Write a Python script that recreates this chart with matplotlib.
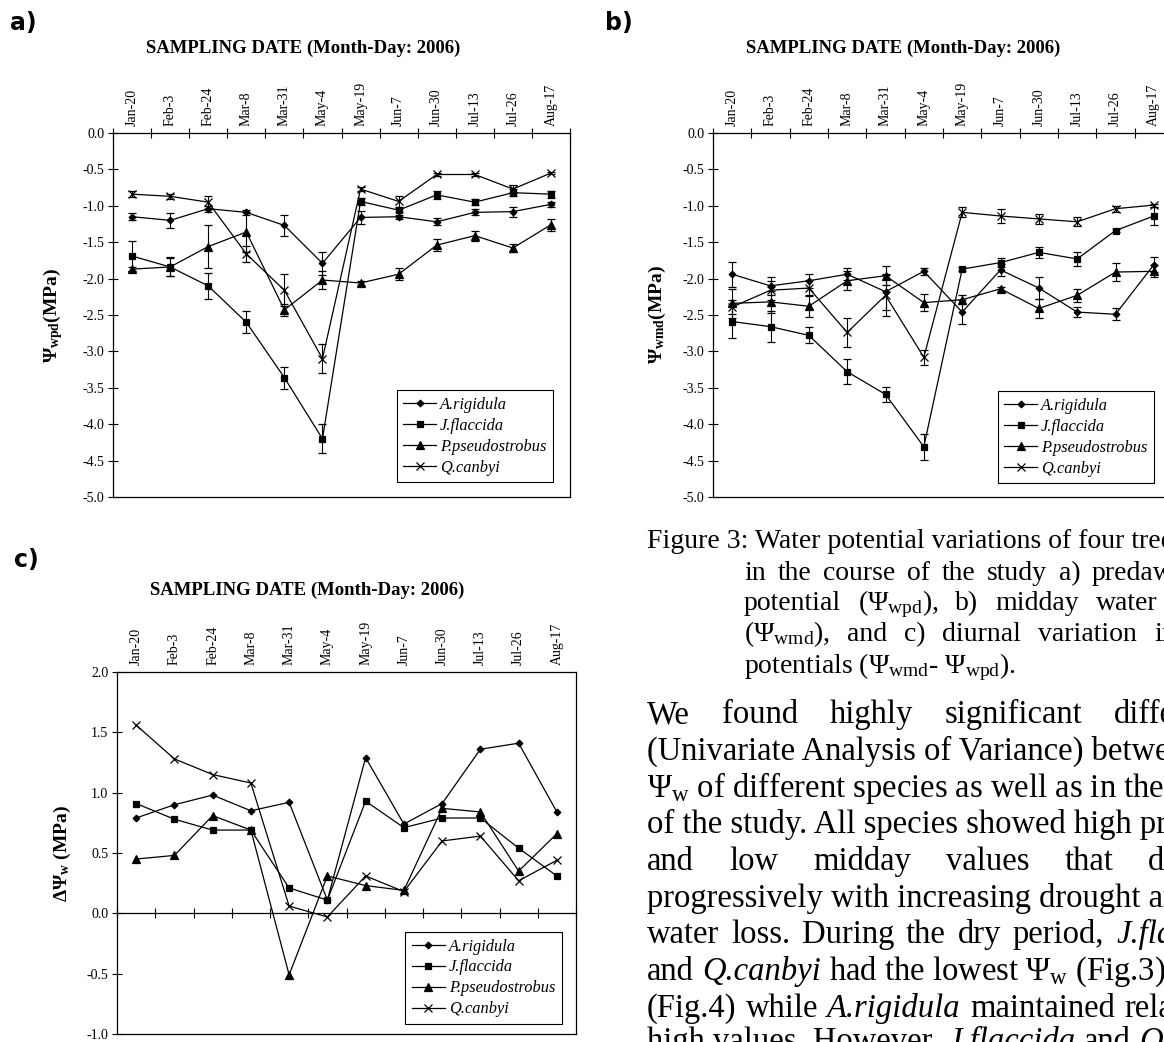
import numpy as np
import matplotlib
matplotlib.use("Agg")
import matplotlib.pyplot as plt
from matplotlib.lines import Line2D
from matplotlib.ticker import FuncFormatter

plt.rcParams["font.family"] = "Liberation Serif"
plt.rcParams["mathtext.fontset"] = "custom"
plt.rcParams["mathtext.rm"] = "Liberation Serif"
plt.rcParams["mathtext.it"] = "Liberation Serif:italic"
plt.rcParams["mathtext.bf"] = "Liberation Serif:bold"

W, H = 1164, 1042

dates = ["Jan-20", "Feb-3", "Feb-24", "Mar-8", "Mar-31", "May-4",
         "May-19", "Jun-7", "Jun-30", "Jul-13", "Jul-26", "Aug-17"]
species = ["A.rigidula", "J.flaccida", "P.pseudostrobus", "Q.canbyi"]
markers = ["D", "s", "^", "x"]
msizes = [3.4, 4.6, 5.2, 5.2]

# a) predawn water potential (MPa), with error bars
wpd_rigidula = [-1.15, -1.20, -1.04, -1.09, -1.27, -1.79, -1.16, -1.15, -1.22, -1.09, -1.08, -0.98]
wpd_rigidula_err = [0.05, 0.10, 0.04, 0.03, 0.15, 0.16, 0.09, 0.03, 0.05, 0.04, 0.07, 0.03]
wpd_flaccida = [-1.69, -1.84, -2.10, -2.60, -3.36, -4.20, -0.94, -1.06, -0.85, -0.95, -0.82, -0.84]
wpd_flaccida_err = [0.20, 0.12, 0.18, 0.15, 0.15, 0.20, 0.05, 0.03, 0.05, 0.04, 0.05, 0.05]
wpd_pseudostrobus = [-1.87, -1.84, -1.56, -1.36, -2.43, -2.02, -2.06, -1.94, -1.54, -1.41, -1.58, -1.26]
wpd_pseudostrobus_err = [0.03, 0.13, 0.30, 0.28, 0.08, 0.12, 0.03, 0.08, 0.08, 0.07, 0.05, 0.08]
wpd_canbyi = [-0.84, -0.87, -0.95, -1.66, -2.16, -3.10, -0.77, -0.94, -0.57, -0.57, -0.77, -0.55]
wpd_canbyi_err = [0.04, 0.03, 0.09, 0.11, 0.22, 0.20, 0.03, 0.08, 0.02, 0.02, 0.05, 0.02]

# b) midday water potential (MPa), with error bars
wmd_rigidula = [-1.94, -2.10, -2.03, -1.94, -2.18, -1.90, -2.46, -1.88, -2.13, -2.46, -2.49, -1.81]
wmd_rigidula_err = [0.17, 0.12, 0.10, 0.08, 0.25, 0.05, 0.17, 0.08, 0.15, 0.07, 0.08, 0.10]
wmd_flaccida = [-2.59, -2.66, -2.78, -3.28, -3.59, -4.31, -1.87, -1.78, -1.64, -1.73, -1.34, -1.14]
wmd_flaccida_err = [0.23, 0.21, 0.11, 0.17, 0.10, 0.18, 0.03, 0.06, 0.08, 0.10, 0.02, 0.12]
wmd_pseudostrobus = [-2.34, -2.32, -2.38, -2.03, -1.96, -2.33, -2.29, -2.14, -2.41, -2.23, -1.91, -1.90]
wmd_pseudostrobus_err = [0.20, 0.15, 0.15, 0.13, 0.13, 0.12, 0.06, 0.03, 0.13, 0.09, 0.12, 0.08]
wmd_canbyi = [-2.39, -2.16, -2.13, -2.74, -2.23, -3.08, -1.09, -1.14, -1.18, -1.22, -1.04, -0.99]
wmd_canbyi_err = [0.10, 0.13, 0.11, 0.20, 0.28, 0.10, 0.07, 0.09, 0.07, 0.06, 0.04, 0.02]

# c) diurnal variation (MPa)
dw_rigidula = [0.79, 0.90, 0.98, 0.85, 0.92, 0.11, 1.29, 0.74, 0.91, 1.36, 1.41, 0.84]
dw_flaccida = [0.91, 0.78, 0.69, 0.69, 0.21, 0.11, 0.93, 0.71, 0.79, 0.79, 0.54, 0.31]
dw_pseudostrobus = [0.45, 0.48, 0.81, 0.69, -0.51, 0.31, 0.23, 0.19, 0.87, 0.84, 0.35, 0.66]
dw_canbyi = [1.56, 1.28, 1.15, 1.08, 0.06, -0.03, 0.31, 0.18, 0.60, 0.64, 0.27, 0.44]

# caption and body text: (baseline y, start x, (word index, its x) or None, words)
N, I = "normal", "italic"
caption_lines = [
    (548, 647, None, [("Figure 3: Water potential variations of four tree species", N)]),
    (580, 744, (7, 1092), [(w, N) for w in "in the course of the study a) predawn water".split()]),
    (610, 744, (4, 1096), [("potential", N), (r"($\Psi_\mathrm{wpd}$),", N), ("b)", N),
                           ("midday", N), ("water", N), ("potential", N)]),
    (641, 744, (5, 1154), [(r"($\Psi_\mathrm{wmd}$),", N), ("and", N), ("c)", N),
                           ("diurnal", N), ("variation", N), ("in", N), ("water", N)]),
    (673, 744, None, [(r"potentials ($\Psi_\mathrm{wmd}$- $\Psi_\mathrm{wpd}$).", N)]),
]
body_lines = [
    (723, 647, (4, 1114), [(w, N) for w in "We found highly significant differences".split()]),
    (760, 647, None, [("(Univariate Analysis of Variance) between", N)]),
    (797, 647, None, [(r"$\Psi_\mathrm{w}$ of different species as well as in the course", N)]),
    (833, 647, None, [("of the study. All species showed high predawn", N)]),
    (870, 647, (5, 1148), [(w, N) for w in "and low midday values that decreased".split()]),
    (907, 647, None, [("progressively with increasing drought and", N)]),
    (943, 647, (6, 1116), [(w, N) for w in "water loss. During the dry period,".split()]
                          + [("J.flaccida", I)]),
    (980, 647, None, [("and", N), ("Q.canbyi", I),
                      (r"had the lowest $\Psi_\mathrm{w}$ (Fig.3) and", N)]),
    (1017, 647, (4, 1124), [("(Fig.4)", N), ("while", N), ("A.rigidula", I),
                            ("maintained", N), ("relatively", N)]),
    (1050, 647, None, [("high values. However,", N), ("J.flaccida", I), ("and", N),
                       ("Q.canbyi", I)]),
]

fig = plt.figure(figsize=(W / 100, H / 100), dpi=100)
renderer = fig.canvas.get_renderer()


def px_axes(left, top, right, bottom):
    return fig.add_axes([left / W, 1 - bottom / H, (right - left) / W, (bottom - top) / H])


def ftext(x, y, s, **kw):
    return fig.text(x / W, 1 - y / H, s, **kw)


def draw_line(y, x0, anchor, words, size):
    objs = [ftext(0, y, s, size=size, style=st, va="baseline", ha="left") for s, st in words]
    widths = [o.get_window_extent(renderer).width for o in objs]
    if anchor is None:
        gap = 0.25 * size * 100 / 72
    else:
        k, xk = anchor
        gap = (xk - x0 - sum(widths[:k])) / k
    x = x0
    for o, w in zip(objs, widths):
        o.set_x(x / W)
        x += w + gap


def panel(ax, values, errs, ylo, yhi, anchor, zero_axis=False):
    x = np.arange(len(dates))
    for vals, err, m, ms in zip(values, errs, markers, msizes):
        if err is None:
            ax.plot(x, vals, color="k", lw=0.9, marker=m, ms=ms, mew=0.9)
        else:
            ax.errorbar(x, vals, yerr=err, color="k", lw=0.9, marker=m, ms=ms, mew=0.9,
                        capsize=3.2, elinewidth=0.8, capthick=0.8)
    ax.set_xlim(-0.5, len(dates) - 0.5)
    ax.set_ylim(ylo, yhi)
    ax.set_yticks(np.arange(ylo, yhi + 0.01, 0.5))
    ax.yaxis.set_major_formatter(FuncFormatter(lambda v, p: f"{v:.1f}"))
    ax.tick_params(axis="y", direction="inout", length=6.5, width=0.8, labelsize=10, pad=3)
    ax.set_xticks(x)
    ax.set_xticklabels(dates, rotation=90)
    ax.tick_params(axis="x", which="major", length=0, top=True, bottom=False,
                   labeltop=True, labelbottom=False, labelsize=10, pad=5)
    bounds = np.arange(-0.5, len(dates), 1.0)
    if zero_axis:
        sec = ax.secondary_xaxis((0 - ylo) / (yhi - ylo))
        sec.set_xticks(bounds)
        sec.tick_params(direction="inout", length=6.5, width=0.8, labelbottom=False, labeltop=False)
        for s in sec.spines.values():
            s.set_linewidth(0.9)
    else:
        ax.set_xticks(bounds, minor=True)
        ax.tick_params(axis="x", which="minor", direction="inout", length=6.5, width=0.8,
                       top=True, bottom=False)
    for s in ax.spines.values():
        s.set_linewidth(0.9)
    handles = [Line2D([0], [0], color="k", lw=0.9, marker=m, ms=ms, mew=0.9)
               for m, ms in zip(markers, msizes)]
    leg = ax.legend(handles, species, loc="lower right", bbox_to_anchor=anchor,
                    prop={"style": "italic", "size": 11.8}, frameon=True, fancybox=False,
                    edgecolor="k", framealpha=1, handlelength=2.0, handletextpad=0.25,
                    borderpad=0.4, labelspacing=0.3, borderaxespad=0)
    leg.get_frame().set_linewidth(0.8)


title = "SAMPLING DATE (Month-Day: 2006)"
letter_font = dict(family=["Liberation Sans Narrow", "DejaVu Sans"], weight="bold", size=17)

# panel a
ax_a = px_axes(113, 133, 570, 497)
panel(ax_a, [wpd_rigidula, wpd_flaccida, wpd_pseudostrobus, wpd_canbyi],
      [wpd_rigidula_err, wpd_flaccida_err, wpd_pseudostrobus_err, wpd_canbyi_err],
      -5.0, 0.0, (0.963, 0.041))
ftext(10, 23, "a)", ha="left", va="center", **letter_font)
ftext(303, 48, title, ha="center", va="center", weight="bold", size=13.5)
ftext(53, 315, r"$\mathbf{\Psi_{wpd}(MPa)}$", ha="center", va="center", rotation=90, size=14)

# panel b
ax_b = px_axes(713, 133, 1173, 497)
panel(ax_b, [wmd_rigidula, wmd_flaccida, wmd_pseudostrobus, wmd_canbyi],
      [wmd_rigidula_err, wmd_flaccida_err, wmd_pseudostrobus_err, wmd_canbyi_err],
      -5.0, 0.0, (0.959, 0.038))
ftext(605, 23, "b)", ha="left", va="center", **letter_font)
ftext(903, 48, title, ha="center", va="center", weight="bold", size=13.5)
ftext(657, 315, r"$\mathbf{\Psi_{wmd}(MPa)}$", ha="center", va="center", rotation=90, size=14)

# panel c
ax_c = px_axes(117, 672, 576, 1034)
panel(ax_c, [dw_rigidula, dw_flaccida, dw_pseudostrobus, dw_canbyi],
      [None, None, None, None], -1.0, 2.0, (0.969, 0.028), zero_axis=True)
ftext(14, 560, "c)", ha="left", va="center", **letter_font)
ftext(307, 590, title, ha="center", va="center", weight="bold", size=13.5)
ftext(62, 853, r"$\mathbf{\Delta\Psi_{w}}$ (MPa)", ha="center", va="center", rotation=90,
      size=14, weight="bold")

for y, x0, anchor, words in caption_lines:
    draw_line(y, x0, anchor, words, 20)
for y, x0, anchor, words in body_lines:
    draw_line(y, x0, anchor, words, 23.5)

fig.savefig("out.png", dpi=100)
